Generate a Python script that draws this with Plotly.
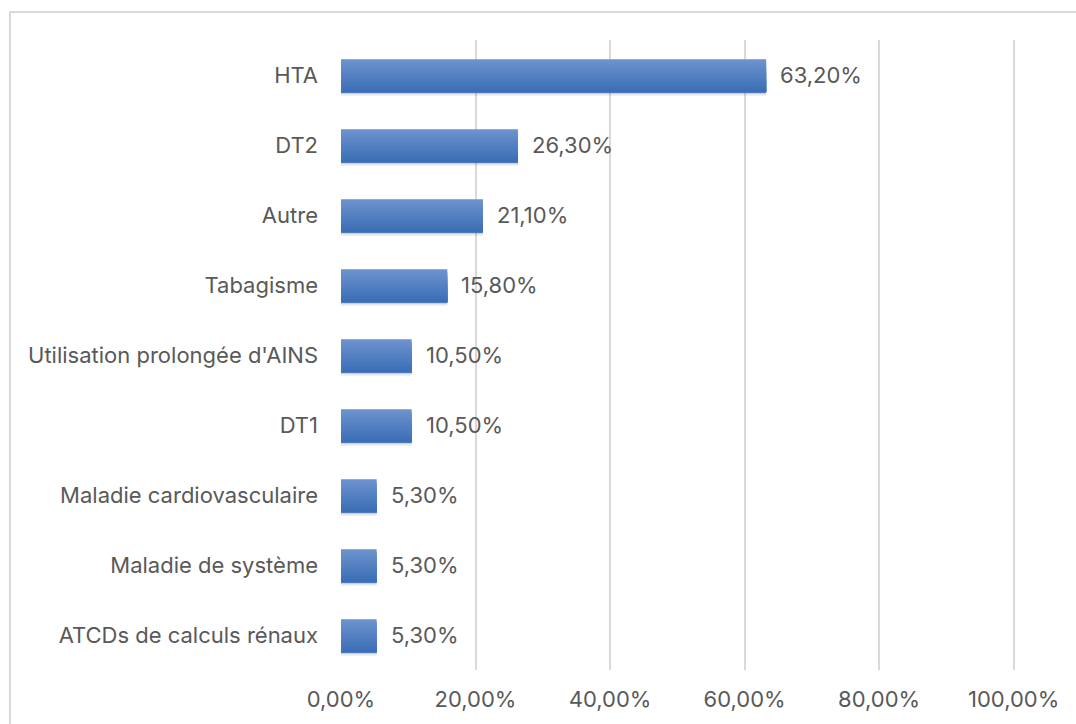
import plotly.graph_objects as go

# Facteurs de risque et fréquences (%)
categories = [
    "HTA",
    "DT2",
    "Autre",
    "Tabagisme",
    "Utilisation prolongée d'AINS",
    "DT1",
    "Maladie cardiovasculaire",
    "Maladie de système",
    "ATCDs de calculs rénaux",
]
values = [63.2, 26.3, 21.1, 15.8, 10.5, 10.5, 5.3, 5.3, 5.3]
x_ticks = [0, 20, 40, 60, 80, 100]

fractions = [v / 100 for v in values]
labels = [f"{v:.2f}".replace(".", ",") + "%" for v in values]

W, H = 1076, 724
ML, MR, MT, MB = 341, 61, 40, 54
FONT = "Inter, Roboto, sans-serif"
FS = 22
TXT = "#595959"

BAR_W = 0.47
BAR_OFF = -0.225

fig = go.Figure()

# soft drop shadow under each bar
for k, a in enumerate([0.07, 0.12]):
    fig.add_trace(go.Bar(
        y=categories, x=fractions, orientation="h",
        marker=dict(color=f"rgba(0,0,0,{a})", line=dict(width=0)),
        width=BAR_W, offset=BAR_OFF + 0.05 - 0.02 * k,
        hoverinfo="skip", showlegend=False,
    ))

# vertical colour gradient: lighter on top, darker at the bottom.
# Each layer runs from its start to the bar's bottom edge so no seams show.
top = (108, 146, 206)
bot = (60, 111, 182)
n = 12
for i in range(n):
    t = i / (n - 1)
    col = tuple(round(top[j] + (bot[j] - top[j]) * t) for j in range(3))
    start = i * BAR_W / n
    fig.add_trace(go.Bar(
        y=categories, x=fractions, orientation="h",
        marker=dict(color="rgb(%d,%d,%d)" % col, line=dict(width=0)),
        width=BAR_W - start, offset=BAR_OFF + start,
        hoverinfo="skip" if i else None, showlegend=False,
    ))

for c, f, t in zip(categories, fractions, labels):
    fig.add_annotation(
        x=f, y=c, text=t, showarrow=False, xanchor="left", xshift=12,
        font=dict(family=FONT, size=FS, color=TXT),
    )

# outer chart frame
px = lambda p: (p - ML) / (W - ML - MR)
py = lambda p: 1 - (p - MT) / (H - MT - MB)
fig.add_shape(
    type="rect", xref="paper", yref="paper",
    x0=px(10), x1=px(W + 5), y0=py(H + 5), y1=py(12),
    line=dict(color="#d9d9d9", width=2), fillcolor="rgba(0,0,0,0)", layer="below",
)

fig.update_layout(
    width=W, height=H,
    margin=dict(l=ML, r=MR, t=MT, b=MB),
    paper_bgcolor="white", plot_bgcolor="white",
    separators=", ",
    barmode="overlay",
    font=dict(family=FONT, size=FS, color=TXT),
    xaxis=dict(
        range=[0, 1.002], tickvals=[t / 100 for t in x_ticks], tickformat=".2%",
        showgrid=True, gridcolor="#d9d9d9", gridwidth=2,
        zeroline=False, showline=False, ticks="", ticklabelstandoff=14,
        tickfont=dict(family=FONT, size=FS, color=TXT),
    ),
    yaxis=dict(
        categoryorder="array", categoryarray=categories, autorange="reversed",
        showgrid=False, zeroline=False, showline=False, ticks="",
        ticklabelstandoff=22,
        tickfont=dict(family=FONT, size=FS, color=TXT),
    ),
)

fig.write_html("out.html")
